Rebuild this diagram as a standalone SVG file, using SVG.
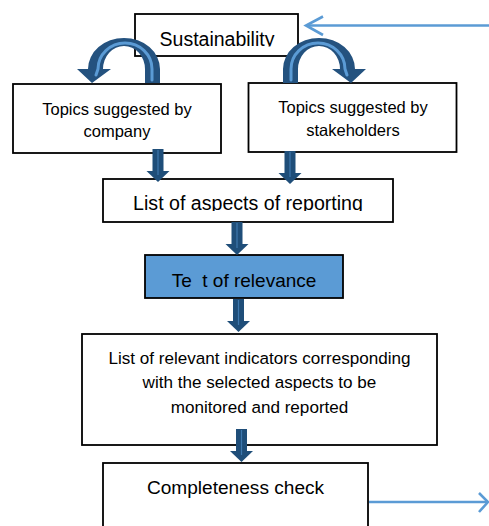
<svg xmlns="http://www.w3.org/2000/svg" width="489" height="526" viewBox="0 0 489 526">
<style>
.box{fill:#fff;stroke:#000;stroke-width:1.8}
.blue{fill:#5B9BD5;stroke:#000;stroke-width:1.8}
.t{font-family:"Liberation Sans",Arial,sans-serif;fill:#000;text-anchor:middle}
.dn{fill:#1F4E79}
.hl{stroke:#3E78AE;stroke-width:1.2;fill:none}
.curve{fill:#24527F}
.stripe{fill:none;stroke:#5B9BD5;stroke-width:3;stroke-linecap:round}
.conn{fill:none;stroke:#5B9BD5;stroke-width:2.6}
</style>
<defs>
<clipPath id="c1"><rect x="0" y="0" width="489" height="46.5"/></clipPath>
<clipPath id="c2"><rect x="0" y="170" width="489" height="41"/></clipPath>
<g id="curveL">
<path class="curve" d="M145,83 L145,69 A21,23 0 0 0 103,69 L111,69 L92,83 L77,69 L88,69 A36,31 0 0 1 160,69 L160,83 Z"/>
<path class="stripe" d="M152,80 L152,69 A27,26 0 0 0 98,69 L96,75"/>
</g>
<g id="down">
<rect class="dn" x="-5.5" y="0" width="11" height="22"/>
<path class="dn" d="M-11.5,22 L11.5,22 L0,33 Z"/>
<line class="hl" x1="0" y1="1" x2="0" y2="26"/>
</g>
</defs>

<g id="n-sustainability">
<rect class="box" x="135" y="14" width="163" height="42"/>
<text class="t" x="217" y="46" font-size="19.5" clip-path="url(#c1)">Sustainability</text>
</g>

<g id="n-company">
<rect class="box" x="13" y="84" width="208" height="69"/>
<text class="t" x="117" y="114.5" font-size="16.5">Topics suggested by</text>
<text class="t" x="117" y="137" font-size="16.5">company</text>
</g>

<g id="n-stakeholders">
<rect class="box" x="248.5" y="83" width="208" height="69"/>
<text class="t" x="353" y="113" font-size="16.5">Topics suggested by</text>
<text class="t" x="353" y="136" font-size="16.5">stakeholders</text>
</g>

<g id="n-aspects">
<rect class="box" x="103" y="179" width="290" height="43"/>
<text class="t" x="248" y="210" font-size="19.6" clip-path="url(#c2)">List of aspects of reporting</text>
</g>

<g id="n-test">
<rect class="blue" x="145" y="255" width="198" height="43"/>
<text class="t" x="244" y="287" font-size="19" style="white-space:pre" xml:space="preserve">Te  t of relevance</text>
</g>

<g id="n-indicators">
<rect class="box" x="82" y="334" width="355" height="111"/>
<text class="t" x="259.5" y="364" font-size="17.1">List of relevant indicators corresponding</text>
<text class="t" x="259.5" y="388" font-size="17.1">with the selected aspects to be</text>
<text class="t" x="259.5" y="412.5" font-size="17.1">monitored and reported</text>
</g>

<g id="n-completeness">
<rect class="box" x="103" y="463" width="265" height="80"/>
<text class="t" x="235.5" y="494" font-size="19.1">Completeness check</text>
</g>

<g id="connectors">
<use href="#curveL"/>
<use href="#curveL" transform="translate(443,0) scale(-1,1)"/>
<use href="#down" transform="translate(158,149)"/>
<use href="#down" transform="translate(290,151)"/>
<use href="#down" transform="translate(237,222)"/>
<use href="#down" transform="translate(238.5,299)"/>
<use href="#down" transform="translate(241.5,429)"/>
<line class="conn" x1="489" y1="25.5" x2="306" y2="25.5"/>
<polyline class="conn" points="323,16.5 306,25.5 323,35"/>
<line class="conn" x1="369" y1="502" x2="488" y2="502"/>
<polyline class="conn" points="479,493 488,502 479,512"/>
</g>
</svg>
